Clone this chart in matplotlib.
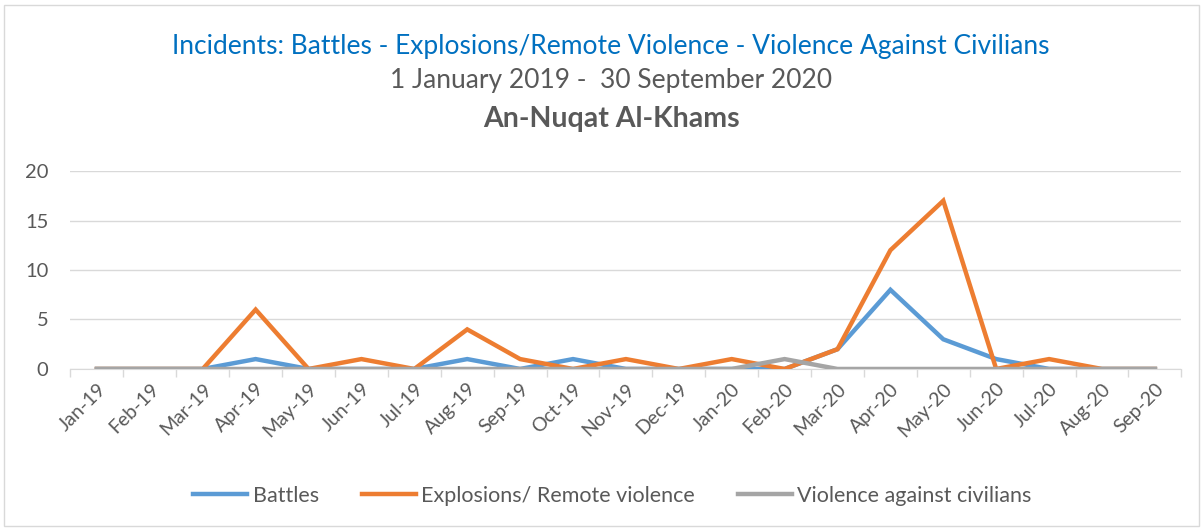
import matplotlib
matplotlib.use("Agg")
import matplotlib.pyplot as plt
from matplotlib.patches import Rectangle

months = ["Jan-19", "Feb-19", "Mar-19", "Apr-19", "May-19", "Jun-19", "Jul-19",
          "Aug-19", "Sep-19", "Oct-19", "Nov-19", "Dec-19", "Jan-20", "Feb-20",
          "Mar-20", "Apr-20", "May-20", "Jun-20", "Jul-20", "Aug-20", "Sep-20"]
battles = [0, 0, 0, 1, 0, 0, 0, 1, 0, 1, 0, 0, 0, 0, 2, 8, 3, 1, 0, 0, 0]
explosions = [0, 0, 0, 6, 0, 1, 0, 4, 1, 0, 1, 0, 1, 0, 2, 12, 17, 0, 1, 0, 0]
civilians = [0, 0, 0, 0, 0, 0, 0, 0, 0, 0, 0, 0, 0, 1, 0, 0, 0, 0, 0, 0, 0]
yticks = [0, 5, 10, 15, 20]

plt.rcParams['font.family'] = ['Lato', 'DejaVu Sans']

fig = plt.figure(figsize=(12.03, 5.29), dpi=100)
fig.patches.append(Rectangle((0.003, 0.006), 0.994, 0.985, transform=fig.transFigure,
                             fill=False, edgecolor="#D9D9D9", linewidth=1))
ax = fig.add_axes([0.0586, 0.3025, 0.9234, 0.3742])

x = list(range(len(months)))
ax.plot(x, battles, color="#5B9BD5", lw=3.2, label="Battles", solid_joinstyle="miter", zorder=3)
ax.plot(x, explosions, color="#ED7D31", lw=3.2, label="Explosions/ Remote violence", solid_joinstyle="miter", zorder=4)
ax.plot(x, civilians, color="#A5A5A5", lw=3.2, label="Violence against civilians", solid_joinstyle="miter", zorder=5)

ax.set_xlim(-0.5, len(months) - 0.5)
ax.set_ylim(0, 20)
ax.set_yticks(yticks)
ax.set_yticklabels([str(v) for v in yticks], fontsize=14.5, color="#595959")
ax.tick_params(axis="y", length=0, pad=16)
ax.yaxis.grid(True, color="#D9D9D9", lw=1)
ax.set_axisbelow(True)

ax.set_xticks(x)
ax.set_xticklabels(months, rotation=45, ha="right", rotation_mode="anchor", fontsize=14, color="#595959")
ax.set_xticks([i - 0.5 for i in range(len(months) + 1)], minor=True)
ax.tick_params(axis="x", which="major", length=0, pad=8)
ax.tick_params(axis="x", which="minor", length=6, color="#D9D9D9", width=1)

for s in ["top", "right", "left"]:
    ax.spines[s].set_visible(False)
ax.spines["bottom"].set_color("#D9D9D9")

fig.text(0.508, 0.912, "Incidents: Battles - Explosions/Remote Violence - Violence Against Civilians",
         ha="center", va="center", fontsize=19, color="#0070C0")
fig.text(0.508, 0.848, "1 January 2019 -  30 September 2020",
         ha="center", va="center", fontsize=19, color="#595959")
fig.text(0.508, 0.775, "An-Nuqat Al-Khams",
         ha="center", va="center", fontsize=20.5, color="#595959", fontweight="bold")

fig.legend(loc="center", bbox_to_anchor=(0.509, 0.063), ncol=3, frameon=False,
           fontsize=15.5, handlelength=2.5, handletextpad=0.25, columnspacing=2.0,
           labelcolor="#595959")

fig.savefig("out.png", dpi=100)
